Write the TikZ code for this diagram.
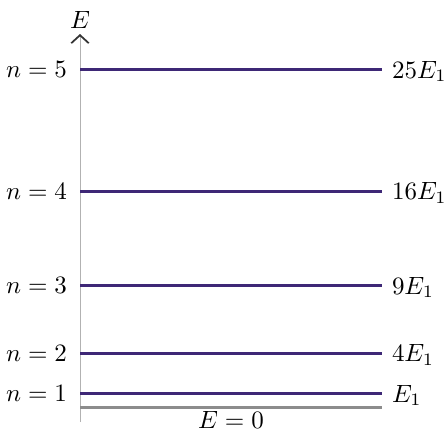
\documentclass[tikz,border=0pt]{standalone}
\usepackage{amsmath,amssymb}
\usetikzlibrary{arrows.meta}
\definecolor{levelc}{RGB}{62,40,118}

\begin{document}
\begin{tikzpicture}[x=0.4pt, y=-0.4pt,
  ax/.style={gray!60, line width=0.4pt},
  lvl/.style={line width=1.2pt, levelc},
  zero/.style={line width=1.2pt, gray!90},
  nl/.style={left, inner sep=1pt},
  el/.style={right, inner sep=1pt}
]
\useasboundingbox (0,0) rectangle (443,448);
% ---------------- axis ----------------
\coordinate (bot) at (80,422);
\coordinate (top) at (80,34);
\draw[ax, -{Straight Barb[length=3.2pt, width=7pt, line width=0.7pt, color=black!80]}] (bot) -- (top);
\node[above, inner sep=2pt] (elab) at (top) {$E$};
% ---------------- levels ----------------
\foreach \n/\lab in {1/E_1, 2/4E_1, 3/9E_1, 4/16E_1, 5/25E_1} {
  \pgfmathsetmacro{\yy}{407-13.5*\n*\n}
  \coordinate (l\n) at (80,\yy);
  \coordinate (r\n) at (382,\yy);
  \draw[lvl] (l\n) -- (r\n);
  \node[nl] (n\n) at (70,\yy) {$n=\n$};
  \node[el] (e\n) at (389,\yy+2) {$\lab$};
}
% ---------------- zero line ----------------
\coordinate (z0) at (80,407);
\coordinate (z1) at (382,407);
\draw[zero] (z0) -- (z1);
\node[below, inner sep=1pt] (zlab) at (231,408) {$E=0$};
\end{tikzpicture}
\end{document}
